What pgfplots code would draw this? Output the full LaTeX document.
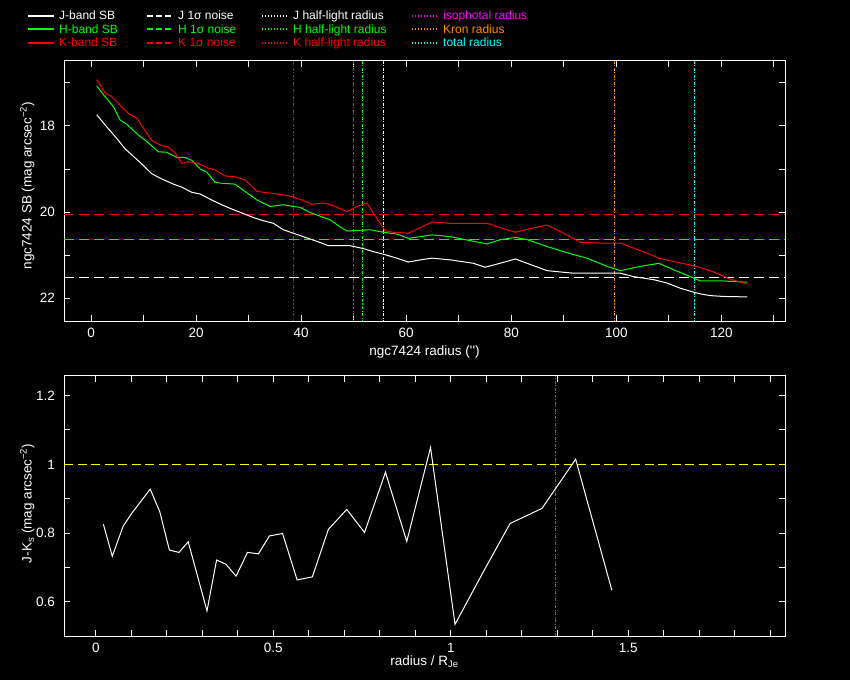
\documentclass[border=0pt]{standalone}
\usepackage{fontspec}
\setmainfont{Liberation Sans}
\usepackage{pgfplots}
\pgfplotsset{compat=1.18}
\definecolor{myorange}{RGB}{255,140,0}
\definecolor{mygreen}{RGB}{0,255,0}
\definecolor{myred}{RGB}{255,0,0}
\definecolor{mymag}{RGB}{255,0,255}
\definecolor{mycyan}{RGB}{0,255,255}
\definecolor{myyellow}{RGB}{255,255,0}
\newcommand{\lstrut}{\rule[-3.5pt]{0pt}{14pt}}
\begin{document}
\fontsize{12}{14}\selectfont
\begin{tikzpicture}[x=1pt,y=1pt]
\fill[black] (0,0) rectangle (850,680);
\pgfplotsset{
  mystyle/.style={
    scale only axis, width=721pt, height=260pt,
    axis line style={white, line width=1pt},
    tick style={white, line width=1pt},
    tick align=inside, tick pos=both,
    major tick length=6pt, minor tick length=6pt,
    tick label style={white, font=\fontsize{13.5}{15}\selectfont},
    yticklabel style={xshift=-5pt},
    xticklabel style={yshift=-3pt},
    label style={white, font=\fontsize{13.5}{15}\selectfont},
    /pgf/number format/assume math mode=true,
  },
  sb/.style={line width=1pt},
  noise/.style={line width=1pt, dash pattern=on 10pt off 5pt},
  rad/.style={line width=1pt, dash pattern=on 3pt off 1.5pt on 1pt off 1.5pt},
}
\newcommand{\limg}[2]{\addlegendimage{legend image code/.code={\draw[#1, #2, line width=2pt] (-3pt,0pt) -- (23pt,0pt);}}}
\begin{axis}[mystyle, at={(64pt,359pt)}, anchor=south west,
  xmin=-5.15, xmax=132.1, ymin=16.49, ymax=22.53, y dir=reverse,
  xtick={0,20,...,120}, minor xtick={10,30,...,130},
  ytick={18,20,22}, minor ytick={17,19,21},
  xlabel={ngc7424 radius (\textquotesingle\textquotesingle)},
  ylabel={ngc7424 SB (mag arcsec\textsuperscript{−2})},
  xlabel style={at={(axis description cs:0.5,-0.119)}, anchor=center},
  ylabel style={at={(axis description cs:-0.051,0.52)}, anchor=center},
  legend columns=4,
  legend style={draw=none, fill=none, at={(axis description cs:-0.0513,1.199)}, anchor=north west,
    inner sep=0pt, column sep=0pt, row sep=1.2pt, nodes={inner sep=0pt},
    font=\fontsize{12}{14}\selectfont},
  legend cell align=left,
]
% noise levels
\addplot[noise, white, forget plot] coordinates {(-5.15,21.51) (132.1,21.51)};
\addplot[noise, mygreen, forget plot] coordinates {(-5.15,20.63) (132.1,20.63)};
\addplot[noise, myred, forget plot] coordinates {(-5.15,20.05) (132.1,20.05)};
% radii
\addplot[rad, myred, forget plot] coordinates {(38.5,16.49) (38.5,22.53)};
\addplot[rad, mymag, forget plot] coordinates {(50.0,16.49) (50.0,22.53)};
\addplot[rad, mygreen, forget plot] coordinates {(51.6,16.49) (51.6,22.53)};
\addplot[rad, white, forget plot] coordinates {(55.7,16.49) (55.7,22.53)};
\addplot[rad, myorange, forget plot] coordinates {(99.7,16.49) (99.7,22.53)};
\addplot[rad, mycyan, forget plot] coordinates {(114.9,16.49) (114.9,22.53)};
% J
\addplot[sb, white, forget plot] coordinates {
(1.08,17.74) (2.99,18.02) (4.9,18.29) (6.48,18.53) (7.75,18.67) (9.65,18.88)
(11.56,19.11) (13.46,19.23) (15.68,19.35) (17.27,19.42) (19.17,19.54) (20.76,19.58)
(22.98,19.72) (24.89,19.83) (26.8,19.93) (29.33,20.05) (31.2,20.14) (32.8,20.2)
(34.7,20.26) (36.6,20.41) (38.5,20.49) (41.1,20.6) (43.0,20.68) (45.2,20.78)
(49.3,20.78) (51.9,20.85) (53.8,20.92) (55.7,20.98) (58.2,21.07) (60.4,21.16)
(62.7,21.11) (64.9,21.07) (68.4,21.11) (72.8,21.19) (75.0,21.28) (76.6,21.23)
(80.8,21.09) (83.0,21.19) (86.8,21.36) (88.4,21.38) (91.9,21.42) (100.8,21.42)
(103.3,21.5) (107.1,21.57) (109.7,21.65) (112.2,21.77) (115.0,21.87) (116.0,21.9)
(117.9,21.94) (120.4,21.96) (124.9,21.97)};
% H
\addplot[sb, mygreen, forget plot] coordinates {
(1.08,17.07) (2.67,17.32) (4.25,17.55) (5.52,17.86) (6.8,17.96) (9.0,18.21)
(10.9,18.39) (12.8,18.6) (14.4,18.61) (16.3,18.73) (17.9,18.73) (19.2,18.8)
(20.8,19.0) (22.0,19.07) (23.6,19.31) (24.9,19.33) (27.4,19.35) (29.3,19.52)
(31.6,19.72) (34.1,19.87) (36.6,19.83) (38.5,19.87) (39.8,19.89) (41.7,20.01)
(45.5,20.18) (47.4,20.34) (48.7,20.44) (53.1,20.41) (55.7,20.47) (58.2,20.51)
(60.4,20.61) (62.7,20.57) (64.9,20.53) (68.4,20.57) (72.8,20.68) (75.4,20.74)
(77.9,20.64) (80.8,20.59) (83.0,20.64) (86.8,20.8) (91.9,20.99) (94.4,21.07)
(98.2,21.26) (100.8,21.36) (104.6,21.26) (108.1,21.19) (110.9,21.34) (114.1,21.5)
(116.0,21.6) (120.4,21.6) (124.9,21.63)};
% K
\addplot[sb, myred, forget plot] coordinates {
(1.08,16.92) (2.67,17.23) (3.94,17.32) (7.1,17.71) (8.7,17.82) (11.56,18.34)
(13.46,18.46) (14.7,18.49) (16.0,18.63) (17.3,18.87) (18.5,18.83) (20.4,18.87)
(22.3,18.98) (23.6,19.02) (25.5,19.16) (27.4,19.18) (29.3,19.25) (31.2,19.47)
(31.6,19.52) (34.1,19.56) (36.6,19.6) (38.5,19.65) (40.4,19.73) (42.0,19.82)
(43.9,19.79) (45.5,19.82) (48.7,19.99) (50.6,19.87) (52.5,19.79) (56.0,20.44)
(57.6,20.47) (60.4,20.49) (64.9,20.23) (68.4,20.26) (72.8,20.26) (75.4,20.26)
(77.3,20.34) (80.8,20.47) (83.0,20.4) (86.8,20.3) (89.3,20.45) (93.1,20.7)
(97.0,20.72) (100.8,20.72) (103.3,20.84) (105.8,20.95) (108.1,21.07) (110.9,21.15)
(114.1,21.23) (116.0,21.29) (118.5,21.39) (121.7,21.56) (124.9,21.67)};
% legend
\limg{white}{solid}
\addlegendentry[text=white]{\makebox[91pt][l]{\hspace{4pt}\lstrut J-band SB}}
\limg{white}{dash pattern=on 6pt off 3pt}
\addlegendentry[text=white]{\makebox[87pt][l]{\hspace{4pt}\lstrut J 1σ noise}}
\limg{white}{dash pattern=on 1pt off 2pt}
\addlegendentry[text=white]{\makebox[122pt][l]{\hspace{4pt}\lstrut J half-light radius}}
\limg{mymag}{dash pattern=on 1pt off 2pt}
\addlegendentry[text=mymag]{\makebox[120pt][l]{\hspace{4pt}\lstrut isophotal radius}}
\limg{mygreen}{solid}
\addlegendentry[text=mygreen]{\makebox[91pt][l]{\hspace{4pt}\lstrut H-band SB}}
\limg{mygreen}{dash pattern=on 6pt off 3pt}
\addlegendentry[text=mygreen]{\makebox[87pt][l]{\hspace{4pt}\lstrut H 1σ noise}}
\limg{mygreen}{dash pattern=on 1pt off 2pt}
\addlegendentry[text=mygreen]{\makebox[122pt][l]{\hspace{4pt}\lstrut H half-light radius}}
\limg{myorange}{dash pattern=on 1pt off 2pt}
\addlegendentry[text=myorange]{\makebox[120pt][l]{\hspace{4pt}\lstrut Kron radius}}
\limg{myred}{solid}
\addlegendentry[text=myred]{\makebox[91pt][l]{\hspace{4pt}\lstrut K-band SB}}
\limg{myred}{dash pattern=on 6pt off 3pt}
\addlegendentry[text=myred]{\makebox[87pt][l]{\hspace{4pt}\lstrut K 1σ noise}}
\limg{myred}{dash pattern=on 1pt off 2pt}
\addlegendentry[text=myred]{\makebox[122pt][l]{\hspace{4pt}\lstrut K half-light radius}}
\limg{mycyan}{dash pattern=on 1pt off 2pt}
\addlegendentry[text=mycyan]{\makebox[120pt][l]{\hspace{4pt}\lstrut total radius}}
\end{axis}

\begin{axis}[mystyle, at={(64pt,44pt)}, anchor=south west,
  xmin=-0.09, xmax=1.942, ymin=0.501, ymax=1.257,
  xtick={0,0.5,1,1.5}, minor xtick={0.1,0.2,0.3,0.4,0.6,0.7,0.8,0.9,1.1,1.2,1.3,1.4,1.6,1.7,1.8,1.9},
  ytick={0.6,0.8,1,1.2}, minor ytick={0.7,0.9,1.1},
  xlabel={radius / R\textsubscript{Je}},
  ylabel={J-K\textsubscript{s} (mag arcsec\textsuperscript{−2})},
  xlabel style={at={(axis description cs:0.5,-0.1)}, anchor=center},
  ylabel style={at={(axis description cs:-0.051,0.51)}, anchor=center},
]
\addplot[noise, myyellow, dash pattern=on 9pt off 4.5pt] coordinates {(-0.09,1) (1.942,1)};
\addplot[rad, mymag] coordinates {(1.295,0.501) (1.295,1.257)};
\addplot[sb, white] coordinates {
(0.021,0.826) (0.046,0.733) (0.077,0.821) (0.101,0.858) (0.153,0.928) (0.180,0.862)
(0.207,0.751) (0.234,0.744) (0.260,0.775) (0.313,0.574) (0.340,0.722) (0.366,0.710)
(0.395,0.675) (0.427,0.744) (0.458,0.740) (0.489,0.792) (0.526,0.799) (0.567,0.664)
(0.610,0.673) (0.655,0.811) (0.707,0.869) (0.757,0.802) (0.816,0.977) (0.876,0.776)
(0.943,1.049) (1.012,0.535) (1.092,0.688) (1.167,0.828) (1.257,0.872) (1.352,1.015)
(1.454,0.634)};
\end{axis}
\pgfresetboundingbox
\useasboundingbox (0,0) rectangle (850,680);
\end{tikzpicture}
\end{document}
